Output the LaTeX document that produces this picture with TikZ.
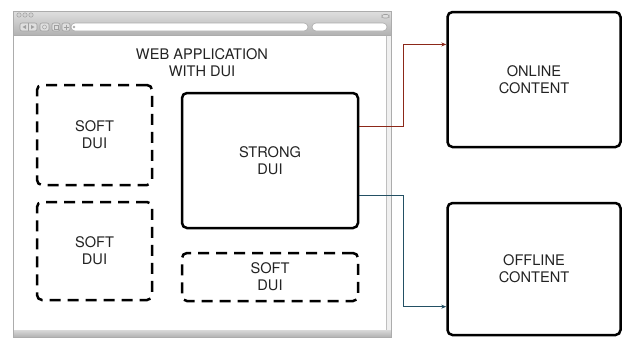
\documentclass[tikz,border=0pt]{standalone}
\usepackage{fontspec}
\setmainfont{TeX Gyre Heros}
\usetikzlibrary{arrows.meta,calc}
\definecolor{toonlinecol}{RGB}{140,40,25}
\definecolor{toofflinecol}{RGB}{35,80,100}
\definecolor{textcol}{RGB}{35,35,35}

\begin{document}
\begin{tikzpicture}[x=1pt,y=-1pt,
    label text/.style={font=\fontsize{14.6}{17}\selectfont, text=textcol, align=center},
    strongbox/.style={draw, line width=2.5pt, rounded corners=5pt, label text},
    softbox/.style={draw, line width=2.5pt, rounded corners=5pt, dash pattern=on 11pt off 7pt, label text},
    chrome btn/.style={draw=gray!75, fill=gray!25, rounded corners=2pt, line width=0.6pt},
    link/.style={line width=0.8pt, -{Stealth[length=5pt,width=4pt]}}]

    % Fix the page size
    \useasboundingbox (0,0) rectangle (623,338);

    % Draw the browser window
    \fill[white] (13,35) rectangle (386,330);
    \shade[top color=gray!25, bottom color=gray!60] (13,11) rectangle (391,35);
    \shade[top color=gray!30, bottom color=gray!60] (13,330) rectangle (391,337);
    \fill[gray!12] (386,35) rectangle (391,330);
    \draw[gray!50, line width=0.6pt] (386,35) -- (386,330);
    \draw[gray!65, line width=0.8pt] (13,11) rectangle (391,337);
    \draw[gray!65, line width=0.6pt] (13,35) -- (391,35);

    % Window buttons
    \foreach \bx in {19,25,31}
        \draw[gray!75, fill=gray!35, line width=0.5pt] (\bx,15) circle (2.2);
    \draw[chrome btn] (382,14.5) rectangle (389,18);

    % Toolbar
    \draw[chrome btn] (20,23) rectangle (37,31);
    \draw[gray!75, line width=0.5pt] (28.5,23) -- (28.5,31);
    \fill[gray!75] (22.5,27) -- (26,25) -- (26,29) -- cycle;
    \fill[gray!75] (34.5,27) -- (31,25) -- (31,29) -- cycle;
    \draw[chrome btn] (40,23) rectangle (49,31);
    \draw[gray!75, line width=0.5pt] (44.5,27) circle (2);
    \draw[chrome btn] (52,23) rectangle (60,31);
    \draw[gray!75, line width=0.5pt] (54,25) rectangle (58,29);
    \draw[chrome btn] (62,23) rectangle (70,31);
    \draw[gray!75, line width=0.7pt] (63.5,27) -- (68.5,27) (66,24.5) -- (66,29.5);
    \draw[gray!65, fill=white, rounded corners=4pt, line width=0.6pt] (71,23) rectangle (308,31);
    \fill[gray!65] (74,27) circle (1.3);
    \draw[gray!65, fill=white, rounded corners=4pt, line width=0.6pt] (312,23) rectangle (387,31);

    % Page title
    \node[label text] (title) at (202,63) {WEB APPLICATION\\WITH DUI};

    % Draw the DUI boxes
    \node[softbox, minimum width=115pt, minimum height=100pt] (soft1) at (94.5,135) {SOFT\\DUI};
    \node[softbox, minimum width=115pt, minimum height=98pt] (soft2) at (94.5,251) {SOFT\\DUI};
    \node[strongbox, minimum width=176pt, minimum height=135pt] (strong) at (270,160.5) {STRONG\\DUI};
    \node[softbox, minimum width=176pt, minimum height=48pt] (soft3) at (270,277) {SOFT\\DUI};

    % Draw the content boxes
    \node[strongbox, minimum width=173pt, minimum height=135pt] (online) at (534,79.5) {ONLINE\\CONTENT};
    \node[strongbox, minimum width=173pt, minimum height=132pt] (offline) at (534,269) {OFFLINE\\CONTENT};

    % Connect strong DUI to the content
    \coordinate (out1) at ($(strong.north east)!0.25!(strong.south east)$);
    \coordinate (out2) at ($(strong.north east)!0.755!(strong.south east)$);
    \coordinate (in1) at ($(online.north west)!0.245!(online.south west)$);
    \coordinate (in2) at ($(offline.north west)!0.78!(offline.south west)$);
    \coordinate (bend1) at (403,0);
    \draw[link, toonlinecol] (out1) -| (bend1 |- in1) -- (in1);
    \draw[link, toofflinecol] (out2) -| (bend1 |- in2) -- (in2);

\end{tikzpicture}
\end{document}
